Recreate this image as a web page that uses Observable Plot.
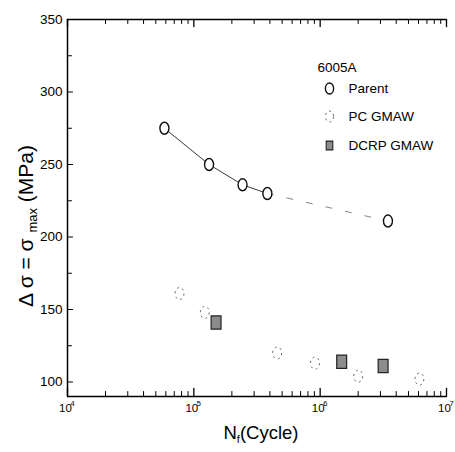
<!DOCTYPE html>
<html>
<head>
<meta charset="utf-8">
<script src="https://cdn.jsdelivr.net/npm/d3@7"></script>
<script src="https://cdn.jsdelivr.net/npm/@observablehq/plot@0.6"></script>
<style>
  html, body { margin: 0; padding: 0; background: #fff; }
</style>
</head>
<body>
<div id="chart"></div>
<script>
// ---- data ----
const parentN = [5.85e4, 1.32e5, 2.43e5, 3.82e5, 3.44e6];
const parentS = [275, 250, 236, 230, 211];
const pcN = [7.7e4, 1.22e5, 4.57e5, 9.1e5, 2.0e6, 6.1e6];
const pcS = [161, 148, 120, 113, 104, 102];
const dcrpN = [1.5e5, 1.48e6, 3.15e6];
const dcrpS = [141, 114, 111];
const seriesNames = ["Parent", "PC GMAW", "DCRP GMAW"];
const alloy = "6005A";
const xMajor = [1e4, 1e5, 1e6, 1e7];
const yMajor = [100, 150, 200, 250, 300, 350];
const yMinor = [125, 175, 225, 275, 325];
const yTitle = "Δ σ = σ max (MPa)";
const xTitle = "Nf(Cycle)";

const parent = parentN.map((n, i) => ({n, s: parentS[i]}));
const pc = pcN.map((n, i) => ({n, s: pcS[i]}));
const dcrp = dcrpN.map((n, i) => ({n, s: dcrpS[i]}));
const xMinor = xMajor.slice(0, -1).flatMap(d => d3.range(2, 10).map(k => k * d));

// ---- symbols ----
const K = 0.5523;
const ellipse = {
  draw(ctx, size) {
    const r = Math.sqrt(size / Math.PI);
    const rx = 0.75 * r, ry = r;
    ctx.moveTo(rx, 0);
    ctx.bezierCurveTo(rx, K * ry, K * rx, ry, 0, ry);
    ctx.bezierCurveTo(-K * rx, ry, -rx, K * ry, -rx, 0);
    ctx.bezierCurveTo(-rx, -K * ry, -K * rx, -ry, 0, -ry);
    ctx.bezierCurveTo(K * rx, -ry, rx, -K * ry, rx, 0);
    ctx.closePath();
  }
};
const box = {
  draw(ctx, size) {
    const r = Math.sqrt(size / Math.PI);
    const w = 1.65 * r, h = 2.2 * r;
    ctx.rect(-w / 2, -h / 2, w, h);
  }
};
const spike = {
  draw(ctx, l) { ctx.moveTo(0, 0); ctx.lineTo(0, -l); }
};

const font = "'Liberation Sans', Arial, sans-serif";
const one = {length: 1};
const legendText = {fontSize: 13.5, textAnchor: "start", lineAnchor: "middle", style: {letterSpacing: "-1px"}};

const svg = Plot.plot({
  width: 455,
  height: 452,
  marginLeft: 67,
  marginRight: 9,
  marginTop: 19,
  marginBottom: 56,
  style: {fontFamily: font, background: "#fff", color: "#000"},
  x: {type: "log", domain: [1e4, 1e7]},
  y: {domain: [90, 350]},
  marks: [
    // frame
    Plot.ruleX([1e4], {strokeWidth: 1.5}),
    Plot.ruleY([90], {strokeWidth: 1.5}),
    Plot.ruleY([350], {strokeWidth: 1.5}),
    // inward ticks
    Plot.vector(xMajor, {x: d => d, frameAnchor: "bottom", rotate: 0, length: 8, anchor: "start", shape: spike, strokeWidth: 1.3}),
    Plot.vector(xMinor, {x: d => d, frameAnchor: "bottom", rotate: 0, length: 5, anchor: "start", shape: spike, strokeWidth: 1}),
    Plot.vector(xMajor, {x: d => d, frameAnchor: "top", rotate: 180, length: 7, anchor: "start", shape: spike, strokeWidth: 1.3}),
    Plot.vector(xMinor, {x: d => d, frameAnchor: "top", rotate: 180, length: 4, anchor: "start", shape: spike, strokeWidth: 1}),
    Plot.vector(yMajor, {y: d => d, frameAnchor: "left", rotate: 90, length: 5, anchor: "start", shape: spike, strokeWidth: 1.2}),
    Plot.vector(yMinor, {y: d => d, frameAnchor: "left", rotate: 90, length: 4, anchor: "start", shape: spike, strokeWidth: 1}),
    // axes labels
    Plot.axisX({ticks: xMajor, tickSize: 0, tickPadding: 7, tickFormat: () => "10", fontSize: 11.5, dx: -2, label: null, style: {letterSpacing: "-1.5px"}}),
    Plot.text(xMajor, {x: d => d, frameAnchor: "bottom", dy: 9, dx: 3, text: d => String(Math.round(Math.log10(d))), fontSize: 7.5, textAnchor: "start"}),
    Plot.axisY({ticks: yMajor, tickSize: 0, tickPadding: 5, fontSize: 13.5, label: null, style: {letterSpacing: "-1.2px"}}),
    Plot.text(one, {frameAnchor: "left", textAnchor: "middle", dx: -41, dy: 18, rotate: -90, text: () => yTitle, fontSize: 21}),
    Plot.text(one, {frameAnchor: "bottom", textAnchor: "middle", dx: 4, dy: 42, text: () => xTitle, fontSize: 18.5, style: {letterSpacing: "-0.8px"}}),
    // data
    Plot.line(parent.slice(0, 4), {x: "n", y: "s", stroke: "#222", strokeWidth: 0.9}),
    Plot.line(parent.slice(3), {x: "n", y: "s", stroke: "#777", strokeWidth: 0.9, strokeDasharray: "6,14"}),
    Plot.dot(parent, {x: "n", y: "s", r: 6, symbol: ellipse, stroke: "#111", strokeWidth: 1.4, fill: "#fff"}),
    Plot.dot(pc, {x: "n", y: "s", r: 6, symbol: ellipse, stroke: "#666", strokeWidth: 1, strokeDasharray: "2,3.5", fill: "none"}),
    Plot.dot(dcrp, {x: "n", y: "s", r: 6, symbol: box, stroke: "#222", strokeWidth: 1.2, fill: "#8c8c8c"}),
    // legend
    Plot.text(one, {frameAnchor: "top-left", dx: 250, dy: 48, text: () => alloy, ...legendText}),
    Plot.dot(one, {frameAnchor: "top-left", dx: 262, dy: 69, r: 5.5, symbol: ellipse, stroke: "#111", strokeWidth: 1.4, fill: "#fff"}),
    Plot.dot(one, {frameAnchor: "top-left", dx: 262, dy: 97, r: 5.5, symbol: ellipse, stroke: "#666", strokeWidth: 1, strokeDasharray: "2,3.5", fill: "none"}),
    Plot.dot(one, {frameAnchor: "top-left", dx: 262, dy: 126, r: 4, symbol: box, stroke: "#222", strokeWidth: 1.1, fill: "#8c8c8c"}),
    Plot.text(one, {frameAnchor: "top-left", dx: 281, dy: 69, text: () => seriesNames[0], ...legendText}),
    Plot.text(one, {frameAnchor: "top-left", dx: 281, dy: 97, text: () => seriesNames[1], ...legendText}),
    Plot.text(one, {frameAnchor: "top-left", dx: 281, dy: 126, text: () => seriesNames[2], ...legendText})
  ]
});

// subscripts in axis titles
d3.select(svg).selectAll("text").each(function () {
  const t = d3.select(this);
  if (this.textContent === yTitle) {
    t.text(null);
    t.append("tspan").text("Δ σ = σ ");
    t.append("tspan").attr("font-size", 13).attr("dy", 4).text("max");
    t.append("tspan").attr("dy", -4).text(" (MPa)");
  } else if (this.textContent === xTitle) {
    t.text(null);
    t.append("tspan").text("N");
    t.append("tspan").attr("font-size", 11).attr("dy", 4).text("f");
    t.append("tspan").attr("dy", -4).text("(Cycle)");
  }
});

document.getElementById("chart").appendChild(svg);
</script>
</body>
</html>
